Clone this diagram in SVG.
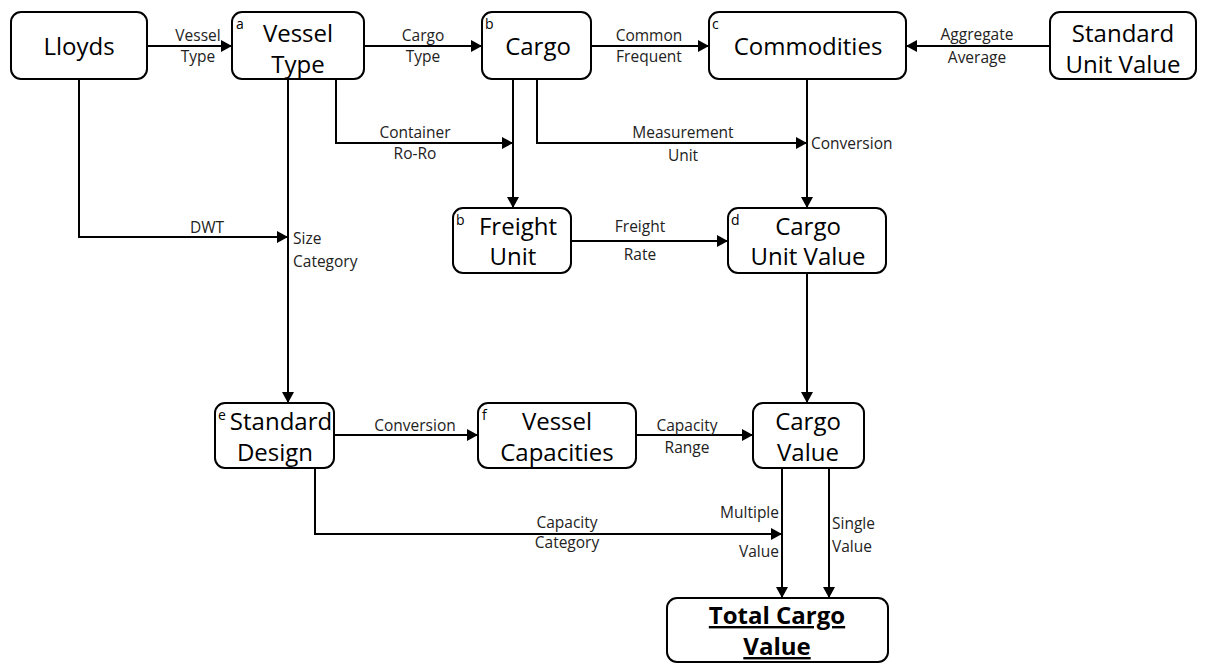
<svg xmlns="http://www.w3.org/2000/svg" width="1208" height="664" viewBox="0 0 1208 664">
<style>
.box{fill:#fff;stroke:#000;stroke-width:2}
.conn path{fill:none;stroke:#000;stroke-width:2;marker-end:url(#ah)}
.n{font-family:"Open Sans","Noto Sans",sans-serif;font-size:24px;fill:#000;text-anchor:middle}
.s{font-family:"Open Sans","Noto Sans",sans-serif;font-size:14px;fill:#000}
.l,.ls,.le{font-family:"Open Sans","Noto Sans",sans-serif;font-size:15.5px;fill:#222}
.l{text-anchor:middle}
.ls{text-anchor:start}
.le{text-anchor:end}
.b{font-weight:bold;text-decoration:underline;font-size:24px}
</style>
<defs>
<marker id="ah" markerUnits="userSpaceOnUse" markerWidth="12" markerHeight="12" refX="11" refY="6" orient="auto">
<path d="M0,0 L11,6 L0,12 Z" fill="#000"/>
</marker>
</defs>
<g class="conn">
<path d="M147,46 H232"/>
<path d="M364,46 H482"/>
<path d="M591,46 H709"/>
<path d="M1050,46 H906"/>
<path d="M79,79 V237 H288"/>
<path d="M288,79 V403"/>
<path d="M336,79 V143 H513"/>
<path d="M513,79 V208"/>
<path d="M537,79 V143 H807"/>
<path d="M807,79 V208"/>
<path d="M571,241 H728"/>
<path d="M807,273 V403"/>
<path d="M334,435 H478"/>
<path d="M636,435 H753"/>
<path d="M315,468 V534 H782"/>
<path d="M782,468 V598"/>
<path d="M829,468 V598"/>
<text class="l" x="198" y="41">Vessel</text>
<text class="l" x="198" y="62">Type</text>
<text class="l" x="423" y="41">Cargo</text>
<text class="l" x="423" y="62">Type</text>
<text class="l" x="649" y="41">Common</text>
<text class="l" x="649" y="62">Frequent</text>
<text class="l" x="977" y="40">Aggregate</text>
<text class="l" x="977" y="63">Average</text>
<text class="l" x="415" y="138">Container</text>
<text class="l" x="415" y="159">Ro-Ro</text>
<text class="l" x="683" y="138">Measurement</text>
<text class="l" x="683" y="161">Unit</text>
<text class="ls" x="811" y="149">Conversion</text>
<text class="l" x="207" y="233">DWT</text>
<text class="ls" x="293" y="244">Size</text>
<text class="ls" x="293" y="267">Category</text>
<text class="l" x="640" y="232">Freight</text>
<text class="l" x="640" y="260">Rate</text>
<text class="l" x="415" y="431">Conversion</text>
<text class="l" x="687" y="431">Capacity</text>
<text class="l" x="687" y="453">Range</text>
<text class="l" x="567" y="528">Capacity</text>
<text class="l" x="567" y="548">Category</text>
<text class="le" x="779" y="518">Multiple</text>
<text class="le" x="779" y="557">Value</text>
<text class="ls" x="832" y="529">Single</text>
<text class="ls" x="832" y="552">Value</text>
</g>
<g id="lloyds"><rect class="box" x="11" y="12" width="136" height="67" rx="10"/><text class="n" x="79" y="55">Lloyds</text></g>
<g id="vesseltype"><rect class="box" x="232" y="12" width="132" height="67" rx="10"/><text class="s" x="236" y="29">a</text><text class="n" x="298" y="42">Vessel</text><text class="n" x="298" y="73">Type</text></g>
<g id="cargo"><rect class="box" x="482" y="12" width="109" height="67" rx="10"/><text class="s" x="485" y="29">b</text><text class="n" x="538" y="55">Cargo</text></g>
<g id="commodities"><rect class="box" x="709" y="12" width="197" height="67" rx="10"/><text class="s" x="712" y="29">c</text><text class="n" x="808" y="55">Commodities</text></g>
<g id="standardunitvalue"><rect class="box" x="1050" y="12" width="146" height="67" rx="10"/><text class="n" x="1123" y="42">Standard</text><text class="n" x="1123" y="73">Unit Value</text></g>
<g id="freightunit"><rect class="box" x="453" y="208" width="118" height="65" rx="10"/><text class="s" x="456" y="225">b</text><text class="n" x="518" y="235">Freight</text><text class="n" x="513" y="265">Unit</text></g>
<g id="cargounitvalue"><rect class="box" x="728" y="208" width="158" height="65" rx="10"/><text class="s" x="731" y="225">d</text><text class="n" x="808" y="235">Cargo</text><text class="n" x="808" y="265">Unit Value</text></g>
<g id="standarddesign"><rect class="box" x="215" y="403" width="119" height="65" rx="10"/><text class="s" x="218" y="420">e</text><text class="n" x="281" y="430">Standard</text><text class="n" x="275" y="461">Design</text></g>
<g id="vesselcapacities"><rect class="box" x="478" y="403" width="158" height="65" rx="10"/><text class="s" x="482" y="420">f</text><text class="n" x="557" y="430">Vessel</text><text class="n" x="557" y="461">Capacities</text></g>
<g id="cargovalue"><rect class="box" x="753" y="403" width="111" height="65" rx="10"/><text class="n" x="808" y="430">Cargo</text><text class="n" x="808" y="461">Value</text></g>
<g id="totalcargovalue"><rect class="box" x="667" y="598" width="221" height="64" rx="10"/><text class="n b" x="777" y="624">Total Cargo</text><text class="n b" x="777" y="655">Value</text></g>
</svg>
